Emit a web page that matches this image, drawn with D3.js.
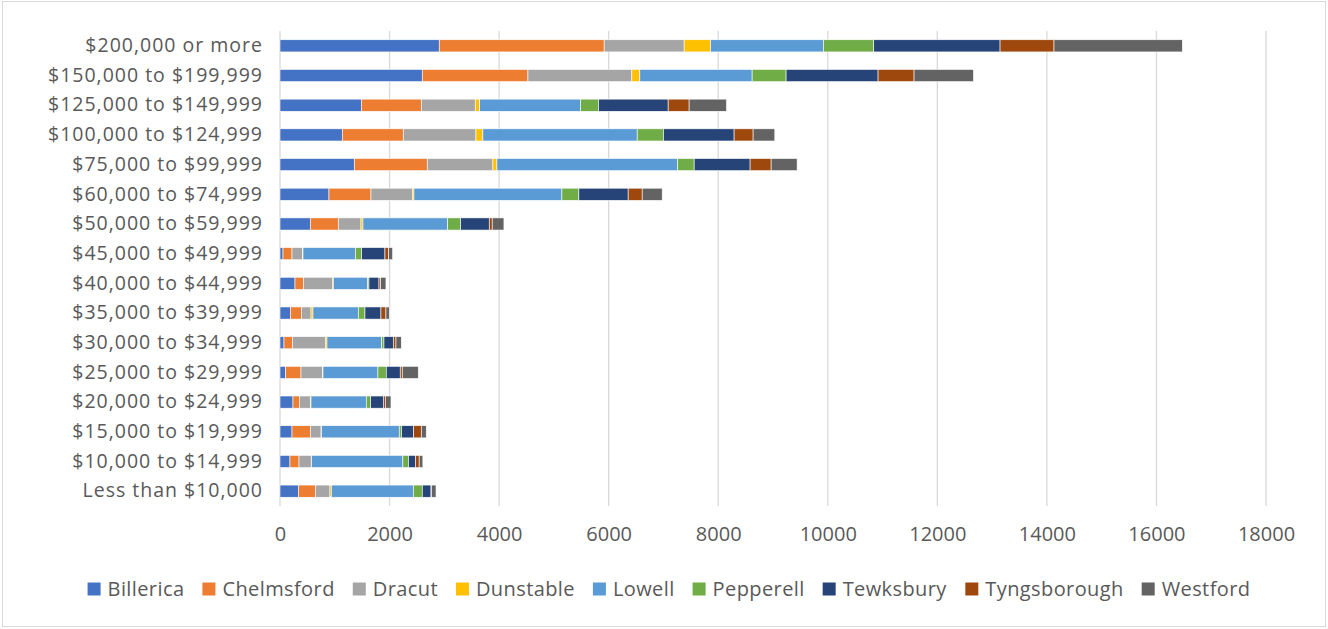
<!DOCTYPE html>
<html>
<head>
<meta charset="utf-8">
<script src="https://cdn.jsdelivr.net/npm/d3@7"></script>
<style>
  body { margin: 0; background: #fff; }
  svg text { font-family: "Open Sans", Lato, sans-serif; fill: #595959; }
</style>
</head>
<body>
<div id="chart"></div>
<script>
// Income brackets, top to bottom
const categories = [
    "$200,000 or more", "$150,000 to $199,999", "$125,000 to $149,999", "$100,000 to $124,999",
    "$75,000 to $99,999", "$60,000 to $74,999", "$50,000 to $59,999", "$45,000 to $49,999",
    "$40,000 to $44,999", "$35,000 to $39,999", "$30,000 to $34,999", "$25,000 to $29,999",
    "$20,000 to $24,999", "$15,000 to $19,999", "$10,000 to $14,999", "Less than $10,000"
];

const towns = ["Billerica", "Chelmsford", "Dracut", "Dunstable", "Lowell", "Pepperell", "Tewksbury", "Tyngsborough", "Westford"];

// one array per town, same order as categories
const billerica    = [2907, 2597, 1484, 1137, 1356, 894, 553, 55, 274, 189, 73, 104, 237, 219, 182, 335];
const chelmsford   = [3011, 1929, 1095, 1113, 1332, 767, 511, 164, 152, 200, 152, 279, 116, 334, 165, 310];
const dracut       = [1460, 1897, 985, 1327, 1199, 754, 414, 189, 529, 177, 602, 389, 200, 197, 223, 267];
const dunstable    = [481, 146, 80, 127, 73, 30, 37, 12, 18, 36, 31, 13, 13, 10, 8, 25];
const lowell       = [2062, 2050, 1843, 2817, 3297, 2701, 1545, 955, 627, 827, 997, 1003, 1009, 1417, 1665, 1496];
const pepperell    = [918, 620, 328, 480, 304, 310, 237, 115, 24, 122, 43, 152, 80, 43, 103, 164];
const tewksbury    = [2306, 1679, 1271, 1289, 1021, 900, 523, 426, 183, 292, 170, 255, 231, 219, 128, 160];
const tyngsborough = [985, 657, 383, 347, 384, 256, 54, 67, 30, 91, 49, 37, 36, 140, 67, 10];
const westford     = [2342, 1084, 682, 396, 474, 365, 214, 73, 97, 61, 97, 292, 104, 91, 67, 81];

const xTicks = [0, 2000, 4000, 6000, 8000, 10000, 12000, 14000, 16000, 18000];

const colors = ["#4472C4", "#ED7D31", "#A5A5A5", "#FFC000", "#5B9BD5", "#70AD47", "#264478", "#9E480E", "#636363"];

const seriesValues = [billerica, chelmsford, dracut, dunstable, lowell, pepperell, tewksbury, tyngsborough, westford];

// rows for d3.stack
const rows = categories.map((c, i) => {
    const r = { category: c };
    towns.forEach((t, j) => r[t] = seriesValues[j][i]);
    return r;
});

const width = 1328, height = 629;
const margin = { top: 31, right: 62, bottom: 123, left: 280 };

const svg = d3.select("#chart").append("svg")
    .attr("width", width)
    .attr("height", height);

// outer chart border
svg.append("rect")
    .attr("x", 2.5).attr("y", 1.5)
    .attr("width", width - 5).attr("height", height - 4)
    .attr("fill", "#fff")
    .attr("stroke", "#d9d9d9");

const x = d3.scaleLinear()
    .domain([0, 18000])
    .range([margin.left, width - margin.right]);

const y = d3.scaleBand()
    .domain(categories)
    .range([margin.top, height - margin.bottom])
    .paddingInner(0.59)
    .paddingOuter(0.295);

// gridlines
svg.append("g")
    .selectAll("line")
    .data(xTicks)
    .enter().append("line")
    .attr("x1", d => x(d)).attr("x2", d => x(d))
    .attr("y1", margin.top).attr("y2", height - margin.bottom)
    .attr("stroke", "#d9d9d9")
    .attr("stroke-width", 1.3);

// stacked bars
const stacked = d3.stack().keys(towns)(rows);

svg.append("g")
    .selectAll("g")
    .data(stacked)
    .enter().append("g")
    .attr("fill", (d, i) => colors[i])
    .selectAll("rect")
    .data(d => d)
    .enter().append("rect")
    .attr("x", d => x(d[0]))
    .attr("width", d => x(d[1]) - x(d[0]))
    .attr("y", d => y(d.data.category))
    .attr("height", y.bandwidth())
    .attr("stroke", "#fff")
    .attr("stroke-width", 0.6);

// x axis labels
const xAxis = svg.append("g")
    .attr("transform", `translate(0,${height - margin.bottom})`)
    .call(d3.axisBottom(x).tickValues(xTicks).tickSize(0).tickPadding(21).tickFormat(d3.format("d")));
xAxis.select(".domain").remove();
xAxis.selectAll("text")
    .style("font-size", "20px")
    .attr("fill", "#595959");

// y axis labels
const yAxis = svg.append("g")
    .attr("transform", `translate(${margin.left},0)`)
    .call(d3.axisLeft(y).tickSize(0).tickPadding(17));
yAxis.select(".domain").remove();
yAxis.selectAll("text")
    .style("font-size", "19.5px")
    .style("letter-spacing", "1px")
    .attr("fill", "#595959");

// legend, centred under the plot
const legend = svg.append("g");
const items = legend.selectAll("g")
    .data(towns)
    .enter().append("g");

items.append("rect")
    .attr("width", 13).attr("height", 13)
    .attr("y", -6.5)
    .attr("fill", (d, i) => colors[i]);

items.append("text")
    .attr("x", 20)
    .attr("dy", "0.35em")
    .style("font-size", "20px")
    .style("letter-spacing", "0.4px")
    .text(d => d);

let pos = 0;
const gap = 18;
items.each(function () {
    const w = this.getBBox().width;
    d3.select(this).attr("transform", `translate(${pos},0)`);
    pos += w + gap;
});
const total = pos - gap;
legend.attr("transform", `translate(${(width - total) / 2 + 5},589)`);
</script>
</body>
</html>
